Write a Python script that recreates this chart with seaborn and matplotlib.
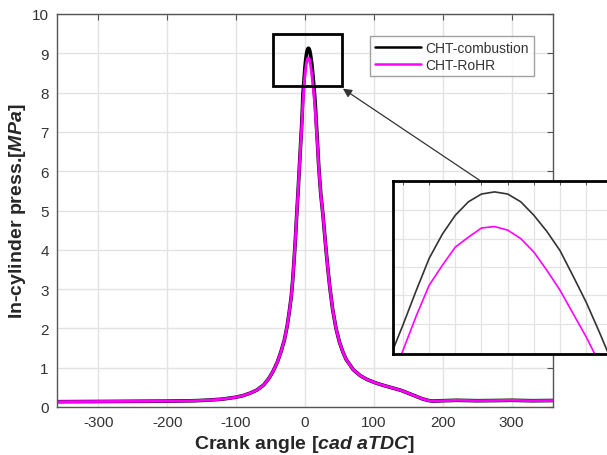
import numpy as np
import pandas as pd
import matplotlib
matplotlib.use('Agg')
import matplotlib.pyplot as plt
import seaborn as sns
from matplotlib.patches import Rectangle
from matplotlib.lines import Line2D

# -------------------------- data --------------------------
crank_angle = [-360, -300, -250, -200, -160, -140, -120, -100, -90, -80, -70, -60,
               -52, -46, -40, -35, -30, -26, -23, -20, -18, -16, -14, -12, -10, -8,
               -6, -5, -4, -3, -2, -1, 0, 1, 2, 3, 4, 5, 6, 7, 8, 9, 10, 11, 12, 13,
               14, 15, 16, 18, 20, 23, 26, 30, 33, 36, 40, 45, 50, 55, 60, 65, 70,
               80, 90, 100, 110, 120, 130, 140, 150, 160, 170, 178, 185, 200, 220,
               250, 280, 300, 330, 360]

p_combustion = [0.135, 0.14, 0.145, 0.15, 0.16, 0.175, 0.20, 0.25, 0.29, 0.35, 0.43, 0.56,
                0.74, 0.92, 1.15, 1.40, 1.70, 2.05, 2.40, 2.80, 3.20, 3.70, 4.25, 4.90, 5.50, 6.15,
                6.80, 7.12, 7.50, 7.96, 8.19, 8.43, 8.66, 8.83, 8.965, 9.06, 9.115, 9.13, 9.115, 9.06, 8.965, 8.85, 8.715, 8.535, 8.35, 8.14,
                7.92, 7.69, 7.35, 6.75, 6.10, 5.40, 4.90, 4.10, 3.55, 3.05, 2.50, 2.00, 1.65, 1.40, 1.20, 1.08, 0.95,
                0.80, 0.70, 0.63, 0.57, 0.52, 0.47, 0.42, 0.35, 0.28, 0.21, 0.17, 0.15, 0.16, 0.17,
                0.16, 0.165, 0.17, 0.16, 0.165]

p_rohr = [0.135, 0.14, 0.145, 0.15, 0.16, 0.175, 0.20, 0.25, 0.29, 0.35, 0.43, 0.56,
          0.74, 0.92, 1.15, 1.40, 1.70, 2.05, 2.40, 2.80, 3.20, 3.70, 4.25, 4.90, 5.50, 6.15,
          6.78, 7.05, 7.40, 7.77, 8.01, 8.25, 8.47, 8.61, 8.74, 8.81, 8.875, 8.885, 8.86, 8.80, 8.705, 8.575, 8.435, 8.27, 8.105, 7.92,
          7.72, 7.50, 7.20, 6.70, 6.10, 5.40, 4.90, 4.10, 3.55, 3.05, 2.50, 2.00, 1.65, 1.40, 1.20, 1.08, 0.95,
          0.80, 0.70, 0.63, 0.57, 0.52, 0.47, 0.42, 0.35, 0.28, 0.21, 0.17, 0.15, 0.16, 0.17,
          0.16, 0.165, 0.17, 0.16, 0.165]

series_names = ['CHT-combustion', 'CHT-RoHR']
series_colors = ['black', '#ff00ff']

df = pd.DataFrame({
    'crank': crank_angle * 2,
    'press': p_combustion + p_rohr,
    'case': [series_names[0]] * len(crank_angle) + [series_names[1]] * len(crank_angle),
})

# -------------------------- style --------------------------
sns.set_theme(style='whitegrid')
plt.rcParams['font.family'] = ['Liberation Sans', 'DejaVu Sans']
plt.rcParams['axes.unicode_minus'] = False
plt.rcParams['mathtext.fontset'] = 'custom'
plt.rcParams['mathtext.it'] = 'Liberation Sans:italic:bold'
plt.rcParams['mathtext.rm'] = 'Liberation Sans:bold'
plt.rcParams['mathtext.bf'] = 'Liberation Sans:bold'

spine_col = '#555555'
grid_col = '#e3e3e3'
text_col = '#333333'

fig = plt.figure(figsize=(6.07, 4.56), dpi=100)
ax = fig.add_axes([57 / 607, 1 - 408 / 456, 496 / 607, 393 / 456])

sns.lineplot(data=df, x='crank', y='press', hue='case', hue_order=series_names,
             palette=series_colors, ax=ax, sort=False, estimator=None, legend=False)
ax.lines[0].set_linewidth(2.6)
ax.lines[1].set_linewidth(2.0)

ax.set_xlim(-360, 360)
ax.set_ylim(0, 10)
ax.set_xticks([-300, -200, -100, 0, 100, 200, 300])
ax.set_yticks(range(0, 11))
ax.grid(True, color=grid_col, linewidth=1.0)
ax.tick_params(direction='in', length=4, width=0.8, color=spine_col,
               top=True, right=True, labelsize=11, labelcolor=text_col, pad=6)
for s in ax.spines.values():
    s.set_color(spine_col)
    s.set_linewidth(1.0)
ax.set_facecolor('white')

ax.set_xlabel(r'Crank angle [$\mathit{cad\ aTDC}$]', fontsize=14, fontweight='bold',
              color='#262626', labelpad=3)
ax.set_ylabel(r'In-cylinder press.[$\mathit{MPa}$]', fontsize=14, fontweight='bold',
              color='#262626')
ax.yaxis.set_label_coords(-0.058, 0.5)

# legend
handles = [Line2D([], [], color=c, lw=1.8) for c in series_colors]
leg = ax.legend(handles, series_names, loc='upper right', bbox_to_anchor=(0.975, 0.962),
                fontsize=10, frameon=True, fancybox=False, borderpad=0.35,
                handlelength=3.3, handletextpad=0.3, labelspacing=0.2)
leg.get_frame().set_edgecolor('#8a8a8a')
leg.get_frame().set_linewidth(1.0)
for t in leg.get_texts():
    t.set_color(text_col)

# zoom rectangle
ax.add_patch(Rectangle((-46, 8.16), 100, 1.33, fill=False, edgecolor='black',
                       linewidth=2.0, zorder=5))

# arrow from inset to rectangle
ax.annotate('', xy=(55, 8.1), xytext=(255, 5.75),
            arrowprops=dict(arrowstyle='-|>', color='#333333', lw=0.9,
                            mutation_scale=13, shrinkA=0, shrinkB=0), zorder=6)

# -------------------------- inset --------------------------
axin = fig.add_axes([393 / 607, 1 - 354.7 / 456, 232.5 / 607, 172.7 / 456])
sns.lineplot(data=df, x='crank', y='press', hue='case', hue_order=series_names,
             palette=['#333333', '#ff00ff'], ax=axin, sort=False, estimator=None,
             legend=False, linewidth=1.2)
axin.set_xlim(-2.76, 15.0)
axin.set_ylim(7.987, 9.207)
axin.set_xticks(np.arange(-2, 15, 2))
axin.set_yticks([8.2, 8.4, 8.6, 8.8, 9.0])
axin.set_xticklabels([])
axin.set_yticklabels([])
axin.set_xlabel('')
axin.set_ylabel('')
axin.grid(True, color=grid_col, linewidth=0.9)
axin.tick_params(direction='in', length=3, width=0.7, color=spine_col,
                 top=True, right=True)
for s in axin.spines.values():
    s.set_color('black')
    s.set_linewidth(2.0)
axin.set_facecolor('white')

fig.savefig('out.png', dpi=100, facecolor='white')
